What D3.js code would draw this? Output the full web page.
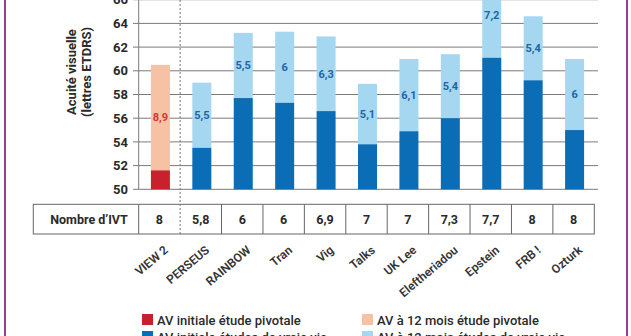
<!DOCTYPE html>
<html>
<head>
<meta charset="utf-8">
<script src="https://cdn.jsdelivr.net/npm/d3@7"></script>
<style>
  body { margin: 0; background: #fff; }
  svg { display: block; font-family: Roboto, "DejaVu Sans", sans-serif; }
</style>
</head>
<body>
<script>
// Data
const studies = ["VIEW 2", "PERSEUS", "RAINBOW", "Tran", "Vig", "Talks", "UK Lee", "Eleftheriadou", "Epstein", "FRB !", "Ozturk"];
const initialVA = [51.6, 53.5, 57.7, 57.3, 56.6, 53.8, 54.9, 56.0, 61.1, 59.2, 55.0];
const gainVA = [8.9, 5.5, 5.5, 6, 6.3, 5.1, 6.1, 5.4, 7.2, 5.4, 6];
const injections = ["8", "5,8", "6", "6", "6,9", "7", "7", "7,3", "7,7", "8", "8"];
const yTicks = [50, 52, 54, 56, 58, 60, 62, 64, 66];
const legendItems = [
  { label: "AV initiale étude pivotale", color: "#c9202e" },
  { label: "AV à 12 mois étude pivotale", color: "#f7c1a3" },
  { label: "AV initiale études de vraie vie", color: "#0b6db6" },
  { label: "AV à 12 mois études de vraie vie", color: "#a5d7f1" }
];

const width = 631, height = 336;
const svg = d3.select("body").append("svg")
  .attr("width", width)
  .attr("height", height);

svg.append("rect").attr("width", width).attr("height", height).attr("fill", "#fff");

// purple side borders
svg.append("line").attr("x1", 5).attr("x2", 5).attr("y1", 0).attr("y2", height)
  .attr("stroke", "#9c3d91").attr("stroke-width", 2);
svg.append("line").attr("x1", 627).attr("x2", 627).attr("y1", 0).attr("y2", height)
  .attr("stroke", "#9c3d91").attr("stroke-width", 2);

const x = d3.scaleBand().domain(studies).range([138.7, 594.3]);
const y = d3.scaleLinear().domain([50, 66]).range([189.3, -0.3]);
const barW = 19;

// gridlines + y labels
svg.selectAll(".grid")
  .data(yTicks)
  .enter().append("line")
  .attr("x1", 133).attr("x2", 598)
  .attr("y1", d => y(d)).attr("y2", d => y(d))
  .attr("stroke", "#7a7a7a").attr("stroke-width", 1);

svg.selectAll(".ylab")
  .data(yTicks)
  .enter().append("text")
  .attr("x", 128).attr("y", d => y(d))
  .attr("dy", "0.36em")
  .attr("text-anchor", "end")
  .attr("font-size", 13).attr("font-weight", "bold").attr("fill", "#2a2a2a")
  .text(d => d);

// axis title
const title = svg.append("text")
  .attr("transform", "translate(76,72) rotate(-90)")
  .attr("text-anchor", "middle")
  .attr("font-size", 13).attr("font-weight", "bold").attr("fill", "#2a2a2a");
title.append("tspan").attr("x", 0).attr("dy", 0).text("Acuité visuelle");
title.append("tspan").attr("x", 0).attr("dy", 15).text("(lettres ETDRS)");

// bars
const bars = svg.selectAll(".bar")
  .data(studies)
  .enter().append("g");

bars.append("rect")
  .attr("x", d => x(d) + x.bandwidth() / 2 - barW / 2 + 1)
  .attr("width", barW)
  .attr("y", (d, i) => y(initialVA[i] + gainVA[i]))
  .attr("height", (d, i) => y(initialVA[i]) - y(initialVA[i] + gainVA[i]))
  .attr("fill", (d, i) => i === 0 ? legendItems[1].color : legendItems[3].color);

bars.append("rect")
  .attr("x", d => x(d) + x.bandwidth() / 2 - barW / 2 + 1)
  .attr("width", barW)
  .attr("y", (d, i) => y(initialVA[i]))
  .attr("height", (d, i) => y(50) - y(initialVA[i]))
  .attr("fill", (d, i) => i === 0 ? legendItems[0].color : legendItems[2].color);

bars.append("text")
  .attr("x", d => x(d) + x.bandwidth() / 2 + 1)
  .attr("y", (d, i) => y(initialVA[i] + gainVA[i] / 2))
  .attr("dy", "0.35em")
  .attr("text-anchor", "middle")
  .attr("font-size", 11).attr("font-weight", "bold")
  .attr("fill", (d, i) => i === 0 ? "#d0353a" : "#1f64a6")
  .text((d, i) => String(gainVA[i]).replace(".", ","));

// y axis line
svg.append("line").attr("x1", 138.7).attr("x2", 138.7).attr("y1", 0).attr("y2", y(50))
  .attr("stroke", "#7a7a7a");

// table
const tTop = 204.3, tBot = 234;
svg.append("rect")
  .attr("x", 33.3).attr("y", tTop)
  .attr("width", 594.3 - 33.3).attr("height", tBot - tTop)
  .attr("fill", "none").attr("stroke", "#666");

svg.selectAll(".col")
  .data(studies.slice(2))
  .enter().append("line")
  .attr("x1", d => x(d)).attr("x2", d => x(d))
  .attr("y1", tTop).attr("y2", tBot)
  .attr("stroke", "#666");
svg.append("line").attr("x1", 138.7).attr("x2", 138.7).attr("y1", tTop).attr("y2", tBot)
  .attr("stroke", "#666");

// dashed separator between pivotal and real-life studies
svg.append("line")
  .attr("x1", x(studies[1])).attr("x2", x(studies[1]))
  .attr("y1", 0).attr("y2", tBot)
  .attr("stroke", "#777").attr("stroke-dasharray", "2,2");

svg.append("text")
  .attr("x", 89).attr("y", (tTop + tBot) / 2).attr("dy", "0.36em")
  .attr("text-anchor", "middle")
  .attr("font-size", 12.5).attr("font-weight", "bold").attr("fill", "#2a2a2a")
  .text("Nombre d’IVT");

svg.selectAll(".ivt")
  .data(studies)
  .enter().append("text")
  .attr("x", d => x(d) + x.bandwidth() / 2)
  .attr("y", (tTop + tBot) / 2).attr("dy", "0.36em")
  .attr("text-anchor", "middle")
  .attr("font-size", 12.5).attr("font-weight", "bold").attr("fill", "#2a2a2a")
  .text((d, i) => injections[i]);

// rotated study names
svg.selectAll(".xlab")
  .data(studies)
  .enter().append("text")
  .attr("transform", d => `translate(${x(d) + x.bandwidth() / 2 + 4},${245}) rotate(-40)`)
  .attr("dy", "0.7em")
  .attr("text-anchor", "end")
  .attr("font-size", 12).attr("font-weight", 600).attr("fill", "#333")
  .text(d => d);

// legend
const legPos = [[142, 314], [362, 314], [142, 331], [362, 331]];
const leg = svg.selectAll(".leg")
  .data(legendItems)
  .enter().append("g")
  .attr("transform", (d, i) => `translate(${legPos[i][0]},${legPos[i][1]})`);
leg.append("rect").attr("width", 11).attr("height", 11).attr("fill", d => d.color);
leg.append("text")
  .attr("x", 15).attr("y", 10.5)
  .attr("font-size", 13).attr("font-weight", 500).attr("fill", "#2a2a2a")
  .text(d => d.label);
</script>
</body>
</html>
